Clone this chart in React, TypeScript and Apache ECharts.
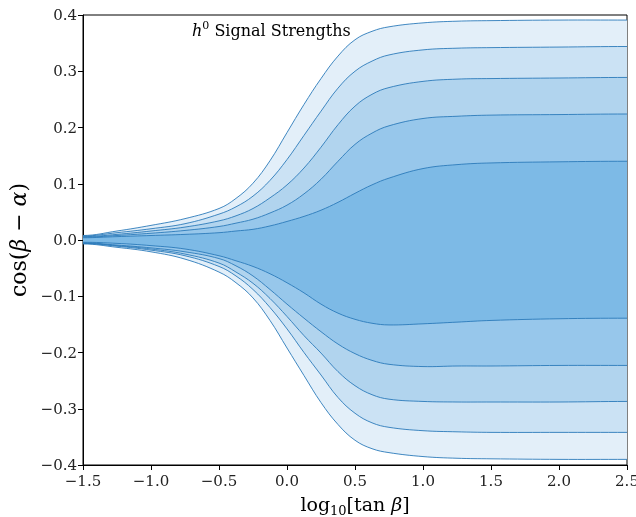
import React, { useEffect, useRef } from "react";
import * as echarts from "echarts";

// log10[tan beta] sample positions
const xs = [-1.5, -1.25, -1.0, -0.75, -0.5, -0.375, -0.25, -0.125, 0, 0.125, 0.25, 0.375, 0.5, 0.625, 0.75, 1.0, 1.25, 1.5, 2.0, 2.5];

// upper boundaries (outer -> inner)
const upper1 = [0.008, 0.016, 0.026, 0.038, 0.056, 0.074, 0.101, 0.141, 0.191, 0.241, 0.287, 0.327, 0.356, 0.371, 0.379, 0.386, 0.389, 0.390, 0.391, 0.391];
const upper2 = [0.007, 0.013, 0.020, 0.029, 0.046, 0.059, 0.078, 0.106, 0.143, 0.186, 0.229, 0.270, 0.300, 0.318, 0.329, 0.338, 0.341, 0.342, 0.343, 0.344];
const upper3 = [0.006, 0.010, 0.016, 0.023, 0.034, 0.043, 0.056, 0.075, 0.098, 0.128, 0.165, 0.205, 0.238, 0.259, 0.271, 0.282, 0.286, 0.287, 0.288, 0.289];
const upper4 = [0.005, 0.008, 0.012, 0.017, 0.024, 0.030, 0.037, 0.048, 0.062, 0.082, 0.108, 0.140, 0.170, 0.190, 0.203, 0.216, 0.220, 0.222, 0.223, 0.224];
const upper5 = [0.004, 0.006, 0.008, 0.010, 0.013, 0.016, 0.019, 0.025, 0.033, 0.042, 0.053, 0.067, 0.083, 0.098, 0.110, 0.127, 0.134, 0.137, 0.139, 0.140];

// lower boundaries (outer -> inner)
const lower1 = [-0.007, -0.013, -0.021, -0.034, -0.057, -0.076, -0.103, -0.143, -0.192, -0.241, -0.289, -0.328, -0.356, -0.371, -0.378, -0.385, -0.388, -0.389, -0.390, -0.390];
const lower2 = [-0.006, -0.011, -0.018, -0.028, -0.047, -0.064, -0.088, -0.120, -0.158, -0.200, -0.240, -0.280, -0.308, -0.325, -0.333, -0.339, -0.341, -0.342, -0.342, -0.342];
const lower3 = [-0.006, -0.010, -0.016, -0.025, -0.041, -0.057, -0.077, -0.104, -0.136, -0.170, -0.201, -0.234, -0.259, -0.275, -0.283, -0.287, -0.288, -0.288, -0.288, -0.287];
const lower4 = [-0.005, -0.009, -0.014, -0.021, -0.033, -0.046, -0.064, -0.088, -0.114, -0.139, -0.163, -0.185, -0.202, -0.214, -0.221, -0.225, -0.224, -0.224, -0.223, -0.223];
const lower5 = [-0.004, -0.006, -0.010, -0.016, -0.028, -0.037, -0.047, -0.060, -0.076, -0.094, -0.114, -0.130, -0.141, -0.148, -0.151, -0.149, -0.146, -0.143, -0.140, -0.139];

const uppers = [upper1, upper2, upper3, upper4, upper5];
const lowers = [lower1, lower2, lower3, lower4, lower5];

const xTicks = [-1.5, -1.0, -0.5, 0.0, 0.5, 1.0, 1.5, 2.0, 2.5];
const yTicks = [-0.4, -0.3, -0.2, -0.1, 0.0, 0.1, 0.2, 0.3, 0.4];

const bandColors = ["#e3eff9", "#cbe2f4", "#b1d4ee", "#97c7eb", "#7dbae6"];
const lineColor = "#2b7bba";
const FONT = "DejaVu Serif";
const SMOOTH = 0.4;

const fmt = (v: number) => {
  if (Math.abs(v) < 1e-9) return "0.0";
  return (v < 0 ? "\u2212" : "") + Math.abs(v).toFixed(1);
};

function makeRender(color: string, mode: "fill" | "line") {
  return (params: any, api: any) => {
    if (params.dataIndex !== 0) return null;
    const n = xs.length;
    const up: number[][] = [];
    const lo: number[][] = [];
    for (let j = 0; j < n; j++) {
      const x = api.value(0, j);
      up.push(api.coord([x, api.value(2, j)]));
      lo.push(api.coord([x, api.value(1, j)]));
    }
    // extend flat beyond the plot edges (clipped) so the smoothing has no corners inside
    const ext = (pts: number[][]) => [
      [pts[0][0] - 300, pts[0][1]],
      ...pts,
      [pts[pts.length - 1][0] + 300, pts[pts.length - 1][1]],
    ];
    const upE = ext(up);
    const loE = ext(lo);
    if (mode === "fill") {
      return {
        type: "polygon",
        shape: { points: upE.concat(loE.slice().reverse()), smooth: SMOOTH },
        style: { fill: color, stroke: null },
        silent: true,
      };
    }
    return {
      type: "group",
      children: [
        {
          type: "polyline",
          shape: { points: upE, smooth: SMOOTH },
          style: { stroke: lineColor, lineWidth: 0.9, fill: null },
          silent: true,
        },
        {
          type: "polyline",
          shape: { points: loE, smooth: SMOOTH },
          style: { stroke: lineColor, lineWidth: 0.9, fill: null },
          silent: true,
        },
      ],
    };
  };
}

export default function App() {
  const ref = useRef<HTMLDivElement>(null);
  useEffect(() => {
    if (!ref.current) return;
    const chart = echarts.init(ref.current, null, { renderer: "svg" });
    const series: any[] = [];
    for (let k = 0; k < uppers.length; k++) {
      const data = xs.map((x, i) => [x, lowers[k][i], uppers[k][i]]);
      series.push({
        type: "custom",
        name: "band" + (k + 1),
        data,
        encode: { x: 0, y: [1, 2] },
        clip: true,
        silent: true,
        z: 2,
        renderItem: makeRender(bandColors[k], "fill"),
      });
    }
    for (let k = 0; k < uppers.length; k++) {
      const data = xs.map((x, i) => [x, lowers[k][i], uppers[k][i]]);
      series.push({
        type: "custom",
        name: "edge" + (k + 1),
        data,
        encode: { x: 0, y: [1, 2] },
        clip: true,
        silent: true,
        z: 3,
        renderItem: makeRender(bandColors[k], "line"),
      });
    }
    chart.setOption({
      animation: false,
      grid: {
        left: 83,
        top: 15,
        right: 9,
        bottom: 52,
        show: true,
        borderColor: "#000",
        borderWidth: 1,
        backgroundColor: "transparent",
        outerBoundsMode: "none",
      },
      xAxis: {
        type: "value",
        min: xTicks[0],
        max: xTicks[xTicks.length - 1],
        interval: 0.5,
        name: "{n|log}{s|10}{n|[tan }{i|\u03b2}{n|]}",
        nameLocation: "middle",
        nameGap: 26,
        nameTextStyle: {
          fontFamily: FONT,
          color: "#000",
          rich: {
            n: { fontFamily: FONT, fontSize: 19, lineHeight: 26, color: "#000" },
            i: { fontFamily: FONT, fontSize: 19, lineHeight: 26, fontStyle: "italic", color: "#000" },
            s: { fontFamily: FONT, fontSize: 13, lineHeight: 13, verticalAlign: "bottom", color: "#000" },
          },
        },
        axisLine: { show: true, onZero: false, lineStyle: { color: "#000", width: 1 } },
        axisTick: { show: true, length: 5, lineStyle: { color: "#000" } },
        axisLabel: { formatter: fmt, fontFamily: FONT, fontSize: 15, color: "#222", margin: 8 },
        splitLine: { show: false },
      },
      yAxis: {
        type: "value",
        min: yTicks[0],
        max: yTicks[yTicks.length - 1],
        interval: 0.1,
        name: "{n|cos(}{i|\u03b2}{n| \u2212 }{i|\u03b1}{n|)}",
        nameLocation: "middle",
        nameGap: 45,
        nameTextStyle: {
          fontFamily: FONT,
          color: "#000",
          rich: {
            n: { fontFamily: FONT, fontSize: 22, color: "#000" },
            i: { fontFamily: FONT, fontSize: 22, fontStyle: "italic", color: "#000" },
          },
        },
        axisLine: { show: true, onZero: false, lineStyle: { color: "#000", width: 1 } },
        axisTick: { show: true, length: 5, lineStyle: { color: "#000" } },
        axisLabel: { formatter: fmt, fontFamily: FONT, fontSize: 15, color: "#222", margin: 6 },
        splitLine: { show: false },
      },
      graphic: [
        {
          type: "text",
          left: 192,
          top: 20,
          z: 100,
          style: {
            text: "{i|h}{s|0}{n| Signal Strengths}",
            fill: "#000",
            rich: {
              i: { fontFamily: FONT, fontSize: 16, fontStyle: "italic", lineHeight: 20, fill: "#000" },
              s: { fontFamily: FONT, fontSize: 11, lineHeight: 11, verticalAlign: "top", fill: "#000" },
              n: { fontFamily: FONT, fontSize: 16, lineHeight: 20, fill: "#000" },
            },
          },
        },
      ],
      series,
    });
    return () => chart.dispose();
  }, []);
  return (
    <div
      ref={ref}
      style={{ position: "fixed", left: 0, top: 0, width: 636, height: 517 }}
    />
  );
}
